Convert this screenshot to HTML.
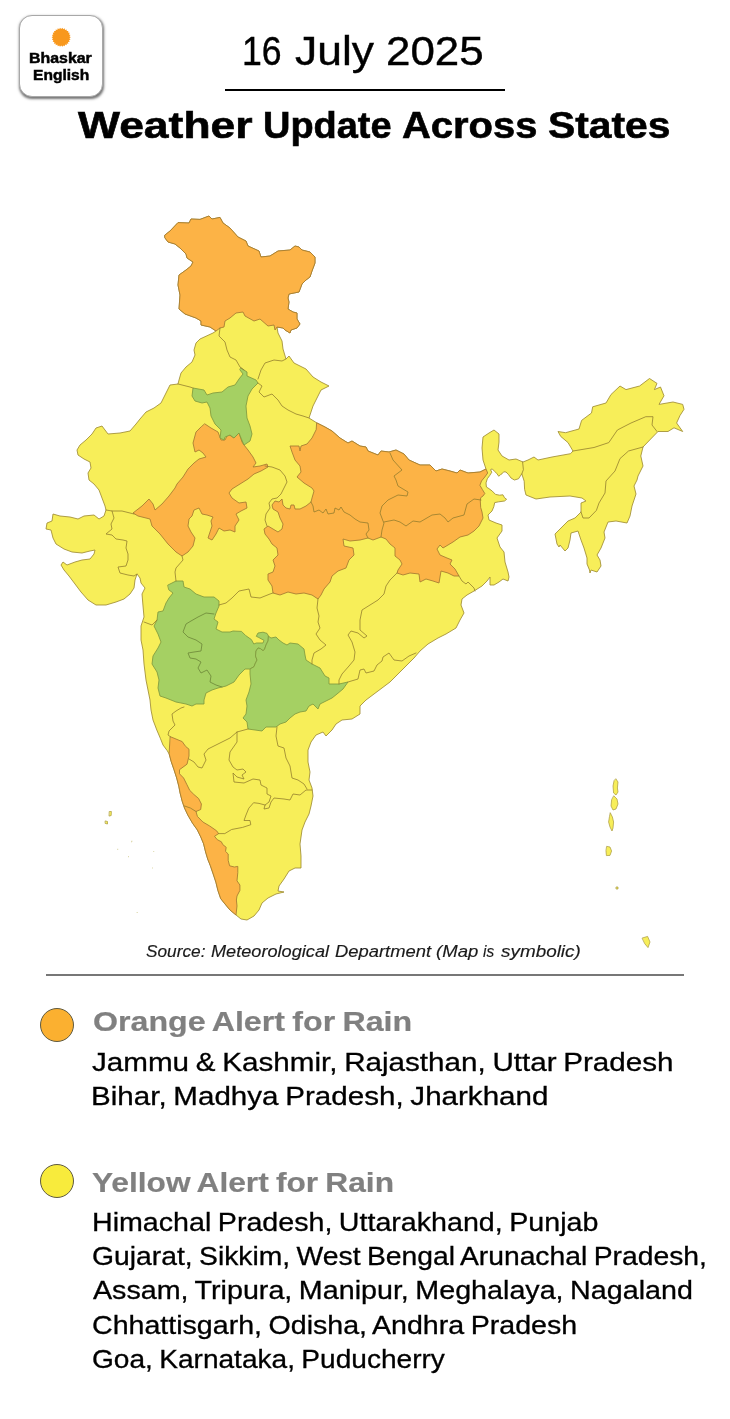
<!DOCTYPE html>
<html lang="en">
<head>
<meta charset="utf-8">
<title>Weather Update Across States</title>
<style>
html,body{margin:0;padding:0;background:#fff;}
body{width:730px;height:1419px;position:relative;overflow:hidden;font-family:"Liberation Sans",sans-serif;color:#000;}
.grp{position:absolute;left:0;top:0;width:0;height:0;margin:0;padding:0;font-size:0;}
.tx{position:absolute;display:block;margin:0;padding:0;white-space:nowrap;letter-spacing:0.0em;word-spacing:-0.05em;transform-origin:0 0;}
#logo{position:absolute;left:19px;top:15px;width:84px;height:82px;border-radius:13px;background:#fff;border:1px solid #a8a8a8;box-sizing:border-box;box-shadow:0.5px 1.5px 2.5px rgba(0,0,0,.55);}
#sun{position:absolute;left:52px;top:28px;width:18px;height:18px;border-radius:50%;background:#f8981d;}
#rule1{position:absolute;left:225px;top:89px;width:280px;height:1.5px;background:#000;}
#rule2{position:absolute;left:46px;top:974px;width:638px;height:2px;background:#777;}
.dot{position:absolute;width:34px;height:34px;border-radius:50%;border:1.3px solid #5f5a40;box-sizing:border-box;}
#map{position:absolute;left:0;top:0;z-index:2;}
</style>
</head>
<body>
<div id="logo"></div>
<div id="rule1"></div>
<svg id="map" width="730" height="1419" viewBox="0 0 730 1419">
<polygon points="70.8,37.3 69.4,38.3 70.5,39.6 69.0,40.2 69.7,41.8 68.0,42.0 68.4,43.7 66.7,43.5 66.7,45.2 65.1,44.6 64.6,46.3 63.2,45.4 62.4,46.8 61.2,45.6 60.0,46.8 59.2,45.4 57.8,46.3 57.3,44.6 55.7,45.2 55.7,43.5 54.0,43.7 54.4,42.0 52.7,41.8 53.4,40.2 51.9,39.6 53.0,38.3 51.6,37.3 53.0,36.3 51.9,35.0 53.4,34.4 52.7,32.8 54.4,32.6 54.0,30.9 55.7,31.1 55.7,29.4 57.3,30.0 57.8,28.3 59.2,29.2 60.0,27.8 61.2,29.0 62.4,27.8 63.2,29.2 64.6,28.3 65.1,30.0 66.7,29.4 66.7,31.1 68.4,30.9 68.0,32.6 69.7,32.8 69.0,34.4 70.5,35.0 69.4,36.3" fill="#f8981d"/>
<g stroke-linejoin="round" stroke-linecap="round">
<path d="M165,235 L170,231 L178,222.6 L189,223 L191,219 L200,219.4 L209,216 L212,219 L220,217.4 L223,223 L230,228 L238,237 L246,241 L248,246 L259,251 L261,257 L270,256 L278,251 L290,250 L295,246 L299,247 L302,250 L310,252 L315,257 L315,263 L312,271 L310,277 L306,280 L302,284 L299,292 L289,294 L288,298 L289,302 L288,309 L293,312 L297,313 L297,319 L300,324 L297,328 L291,330 L290,333 L285,330 L283,328 L277,327 L278,333 L282,341 L283,349 L286,359 L289,356 L294,363 L300,366 L306,369 L313,377 L321,382 L329,386 L321,390 L317,398 L313,406 L309,418 L317,423 L325,427 L332,431 L340,438 L348,443 L352,441 L360,446 L366,447 L368,451 L378,455 L381,451 L389,452 L396,450 L404,454 L409,460 L420,465 L430,465 L436,471 L442,469 L450,471 L457,473 L460,470 L468,473 L480,472 L486,469 L483,460 L482,448 L483,437 L489,433 L494,430 L499,434 L499,442 L498,450 L502,456 L509,460 L516,459 L523,462 L528,460 L534,457 L538,460 L552,457 L570.5,453.7 L573,451 L568,442.6 L560.7,436.4 L558,431.5 L565.6,432.7 L579,429 L581.6,420.4 L591.5,413 L592.7,406.8 L606,403 L611,394.5 L620,386 L626,389.6 L639.6,386 L649.5,378.5 L657,383.4 L654.4,389.6 L660.5,387 L664,395.8 L659,404.4 L673,402 L682.7,404.4 L684,409.3 L680,415.5 L676.6,423 L682.7,431.5 L674,427.8 L668,431.5 L658,431.5 L650.7,439 L643,447 L640.8,456 L643,466 L638,476 L637,480 L634,486 L636,494 L632,506 L630,516 L627,523 L616,521 L608,522 L604,532 L605,538 L601,548 L597,555 L600,560 L601,566 L597,572 L591,570 L590,573 L589.5,570 L587,564 L587,558 L584,548 L581,540 L578,531 L571,533 L570,540 L568,548 L565,551 L560,545 L559,547 L557,544 L555,534 L563,526 L568,521 L575,518 L581,512 L581,503 L586,501 L582,498 L570,496 L550,497 L536,499 L526,495 L524.6,489.4 L524.2,481.2 L521.8,473.8 L518.5,478.8 L514.4,480 L511,478 L508.6,474.7 L506,472 L503.7,471.8 L502,473.8 L500.4,474.7 L498.8,476.3 L497,473.8 L494.7,471.4 L492.2,468.9 L490.5,469.7 L491.8,472.2 L489.7,475.5 L487.3,478.8 L486,482.9 L486.4,487 L488.9,488.6 L492.2,491 L495.5,494.4 L499.6,495.2 L502.9,494.8 L504.5,497.7 L506.6,499.3 L504.5,501 L498.8,501.8 L494.7,502.6 L493.8,506.7 L492,511 L488,515 L489,520 L496,523 L502,525 L502,531 L497,538 L500,547 L504,552 L505,562 L508,572 L509,577 L508,581 L503,579 L499,582 L494,585 L490,585 L490,577 L487,581 L482,586 L474,591 L467,595 L462,599 L461,605 L464,613 L460,620 L456,628 L446,634 L438,638 L428,644 L420,651 L414,658 L406,666 L398,674 L390,682 L382,688 L374,694 L366,700 L360,706 L360,714 L352,719 L342,720 L336,724 L332,730 L326,736 L323,732 L316,735 L311,742 L308,750 L308,762 L310,772 L309,780 L312,788 L313,796 L311,806 L309,814 L305,822 L302,830 L300,844 L301,856 L301,868 L295,868 L289,871 L284,879 L279,886 L278,891 L284,892 L276,894 L268,898 L262,903 L259,910 L254,916 L247,920 L241,919 L236,915 L230,910 L225,904 L220.7,898.6 L217.9,890.4 L215.9,882.2 L213.2,874 L210.4,865.8 L207.7,859 L205.6,852 L203.6,843.8 L200.8,837 L197.4,830 L192.6,823.3 L187.8,815 L184.5,808 L182.2,801.2 L180.1,793 L178.8,786.2 L176.7,778 L174,769.7 L171.2,761.5 L169.2,754 L167.1,750.5 L163,745 L160.3,738.2 L156.8,730 L153,720 L151,710 L150,700 L148,690 L146,680 L144,664 L143,650 L141,640 L141,626 L144,617 L143,606 L142,594 L145,588 L141,583 L140,578 L137,574 L135,580 L134,588 L130,594 L124,599 L116,602 L106,605 L96,605 L88,600 L81,592 L75,584 L69,576 L64,570 L61,565 L63,562 L67,565 L75,562 L82,560 L90,559 L94,554 L95,550 L90,551 L82,553 L72,552 L64,549 L56,544 L53,538 L51,530 L46,529 L47,523 L52,521 L53,514 L60,516 L70,517 L78,519 L84,516 L94,515 L99,519 L104,516 L106,510 L105,506 L102,498 L99,490 L94,484 L89,480 L88,473 L91,468 L90,462 L84,459 L78,455 L77,450 L80,445 L86,440 L92,434 L96,428 L102,426 L105,430 L108,434 L120,433 L130,431 L136,424 L140,419 L146,412 L154,408 L161,403 L166,393 L170,385 L178,384 L179,380 L181,373 L186,367 L192,362 L195,355 L194,350 L196,343 L200,339 L213,333 L216,331 L210,327 L201,325 L201,321 L196,318 L185,314 L179,309 L180,295 L178,285 L179,275 L186,270 L191,266 L193,262 L187,258 L186,254 L180,248 L175,244 L168,242 L165,238Z" fill="#f7ee59" stroke="#9f8d33" stroke-width="0.85"/>
<path d="M165,235 L170,231 L178,222.6 L189,223 L191,219 L200,219.4 L209,216 L212,219 L220,217.4 L223,223 L230,228 L238,237 L246,241 L248,246 L259,251 L261,257 L270,256 L278,251 L290,250 L295,246 L299,247 L302,250 L310,252 L315,257 L315,263 L312,271 L310,277 L306,280 L302,284 L299,292 L289,294 L288,298 L289,302 L288,309 L293,312 L297,313 L297,319 L300,324 L297,328 L291,330 L290,333 L285,330 L283,328 L277,327 L275,330 L274,325 L268,326 L260,319 L254,321 L245,316 L243,312 L236,313 L230,318 L225,321 L224,327 L220,328 L216,331 L210,327 L201,325 L201,321 L196,318 L185,314 L179,309 L180,295 L178,285 L179,275 L186,270 L191,266 L193,262 L187,258 L186,254 L180,248 L175,244 L168,242 L165,238Z" fill="#fcb346" stroke="#a47a30" stroke-width="0.85"/>
<path d="M205,424 L211,428 L218,432 L221,440 L225,440 L228,434 L234,438 L239,433 L242,442 L244,445 L248,450 L253,457 L256,463 L253,467 L260,466 L267,464 L268,467 L261,471 L254,474 L248,479 L240,484 L232,489 L229,493 L232,498 L239,503 L246,502 L247,508 L241,511 L236,514 L239,520 L235,526 L235,532 L230,530 L224,531 L219,528 L216,534 L212,540 L208,538 L210,532 L212,526 L211,521 L213,517 L207,515 L202,514 L199,508 L194,510 L192,516 L189,519 L188,526 L191,532 L195,538 L193,546 L188,552 L182,556 L176,552 L168,544 L160,534 L152,526 L150,519 L138,516 L133,513 L142,506 L149,499 L153,504 L155,510 L162,504 L169,496 L175,488 L177,484 L183,477 L188,469 L194,463 L199,459 L206,457 L203,453 L199,450 L195,452 L193,443 L196,432 L201,427Z" fill="#fcb346" stroke="#a47a30" stroke-width="0.85"/>
<path d="M317,423 L325,427 L332,431 L340,438 L348,443 L352,441 L360,446 L366,447 L368,451 L378,455 L381,451 L389,452 L396,450 L404,454 L409,460 L420,465 L430,465 L436,471 L442,469 L450,471 L457,473 L460,470 L468,473 L480,472 L486,469 L487.7,473 L484.8,477 L481.5,481 L479.9,485.3 L482.3,489.4 L484.8,493.5 L483,496 L480.7,497.7 L480.3,501 L480.7,507.5 L482,512 L483,518 L479,526 L474,531 L468,535 L460,537 L453,542 L448,545 L443,548 L440,545 L437,549 L440,555 L447,558 L452,560 L450,564 L455,569 L459,576 L454,576 L448,573 L441,571 L440,577 L439,583 L433,581 L426,579 L420,582 L419,574 L410,573 L403,575 L397,573 L398,570 L402,564 L400,560 L395,556 L395,548 L390,544 L386,539 L381,537 L373,540 L368,538 L360,540 L350,541 L343,539 L344,546 L353,548 L354,555 L349,560 L346,568 L338,571 L332,576 L330,582 L324,589 L321,595 L318,599 L312,595 L304,593 L296,594 L288,592 L280,595 L273,593 L272,586 L268,580 L268,574 L273,572 L275,566 L273,560 L278,555 L277,548 L272,544 L269,539 L265,534 L264,529 L268,526 L273,529 L278,532 L282,529 L283,524 L280,518 L278,512 L273,509 L272,505 L275,501 L279,502 L282,499 L283,505 L286,508 L290,509 L291,505 L294,505 L295,509 L300,509 L306,506 L311,502 L312,498 L314,491 L312,488 L304,483 L297,477 L301,472 L300,466 L295,460 L292,452 L290,446 L299,446 L300,451 L301,446 L307,444 L312,438 L316,430Z" fill="#fcb346" stroke="#a47a30" stroke-width="0.85"/>
<path d="M170.5,736.8 L174,738.2 L182.2,741.6 L185.6,746.4 L189,749.2 L189,756 L187,764.2 L179.5,769.7 L179.5,773.8 L183.6,778 L187,784.8 L189.7,790.3 L193.8,794.4 L198.6,798.5 L201.4,804 L200.7,809.5 L196,811.5 L197.4,816.4 L202.9,822 L209.7,826 L216.6,830.8 L218.6,833.6 L214.5,836.3 L217.3,839.7 L221.4,841.8 L222.7,844.5 L226.2,847.3 L225.5,851.4 L228.2,854 L228.2,860.3 L229.6,865.8 L234.4,867 L237.8,866.4 L237.8,872.6 L237,880.8 L239.9,885 L239.9,890.4 L237,896 L236.4,900 L237,906 L236,915 L230,910 L225,904 L220.7,898.6 L217.9,890.4 L215.9,882.2 L213.2,874 L210.4,865.8 L207.7,859 L205.6,852 L203.6,843.8 L200.8,837 L197.4,830 L192.6,823.3 L187.8,815 L184.5,808 L182.2,801.2 L180.1,793 L178.8,786.2 L176.7,778 L174,769.7 L171.2,761.5 L169.2,754Z" fill="#fcb346" stroke="#a47a30" stroke-width="0.85"/>
<path d="M168,585 L176,581 L183,581 L184,587 L190,589 L196,594 L204,597 L214,597 L219,601 L219,606 L216,613 L214,619 L218,622 L216,629 L222,632 L230,632 L233,631 L241.5,631.4 L245.6,635.5 L251.4,639.6 L253.8,644 L256.3,643 L263,643 L264,640.4 L258.8,637.5 L256.3,636.3 L258,633 L263,632.2 L267,633.4 L268.6,636.3 L268,641 L266,645 L264.5,649.4 L263,650.7 L260.4,648.6 L258,648 L256,651 L255.5,656 L257,660 L255,664 L254,666.7 L250,669 L245,669 L239,675 L234,682 L226,686 L218,688 L212,690 L206,693 L204,700 L204,704 L196,704 L192,706 L186,704 L176,702 L166,698 L160,696 L158,688 L159,680 L157,672 L152,664 L153,656 L158,648 L161,642 L158,634 L154,626 L157,620 L158,612 L163,611 L166,603 L169,598 L173,593 L169,590Z" fill="#a5d063" stroke="#7f9a3e" stroke-width="0.85"/>
<path d="M268.6,636.3 L271,638 L276,637 L279,640 L283,643 L287,645 L290,643 L298,644 L304,649 L305,655 L306,660 L312,664 L320,668 L325,676 L329,678 L329,684 L339,684 L348,682 L343,689 L337,694 L332,698 L326,701 L320,704 L318,709 L313,704 L309,706 L306,711 L300,712 L295,714 L290,718 L286,722 L280,724 L276,727 L266,727 L262,731 L248,729 L247,722 L243,718 L246,714 L247,706 L246,700 L249,692 L251,684 L250,674 L250,669 L254,666.7 L255,664 L257,660 L255.5,656 L256,651 L258,648 L260.4,648.6 L263,650.7 L264.5,649.4 L266,645 L268,641Z" fill="#a5d063" stroke="#7f9a3e" stroke-width="0.85"/>
<path d="M241,368 L247,372 L247,376 L256,380 L258,383 L252,389 L248,396 L246,406 L247,418 L250,426 L252,434 L250,441 L244,445 L241,438 L239,433 L234,438 L230,435 L225,437 L224,440 L220,438 L221,430 L215,424 L211,416 L210,408 L207,402 L202,403 L195,401 L192,396 L193,388 L204,390 L207,395 L213,393 L222,392 L228,387 L235,385 L239,379 L243,374 L240,370Z" fill="#a5d063" stroke="#7f9a3e" stroke-width="0.85"/>
<path d="M220,328 L219,336 L225,342 L227,350 L230,357 L236,360 L240,367 L244,370 M258,379 L261,370 L265,363 L274,360 L282,361 L286,359 M178,384 L190,387 L193,388 M258,383 L262,386 L259,392 L264,397 L272,394 L278,400 L282,406 L288,410 L296,414 L303,416 L309,418 M390,453 L393,460 L402,470 L394,476 L396,480 L398,486 L408,492 L407,496 L398,495 L388,500 L382,506 L380,513 L383,521 L384,523 L382,530 L381,537 M311,502 L313,506 L314,512 L319,510 L323,513 L326,509 L328,514 L334,513 L335,508 L339,510 L341,507 L344,512 L350,515 L355,519 L360,522 L368,523 L369,530 L366,534 L368,538 M384,522 L394,520 L400,522 L406,526 L413,521 L420,522 L432,515 L440,514 L445,518 L448,522 L453,518 L464,515 L467,504 L474,499 L481,500 M522.6,462 L523.4,469.7 L521.8,473.8 M573,451 L594,447.5 L608.8,442.6 L617.4,430 L631,423 L645.8,416.7 L653,416.7 L652,425 L657,431.5 M643,447 L628.5,451 L620,458.6 L615,471 L606,481 L605,493 L599,503 L596.4,510.4 L589,518 L583,518 L581,512 M459,576 L462,581 L466,584 L468,582 L474,588 L475,591 M318,599 L317,608 L319,616 L318,622 L320,628 L316,634 L320,640 L326,645 L321,649 L314,653 L312,660 L312,664 M397,573 L390,580 L386,586 L384,594 L378,600 L370,605 L362,610 L360,620 L360,630 L367,636 L364,638 L358,633 L351,631 L348,635 L352,642 L355,652 L354,660 L349,666 L342,674 L339,680 L339,684 M348,682 L358,679 L360,670 L364,669 L366,673 L374,671 L377,665 L382,661 L383,657 L389,653 L394,660 L402,661 L409,656 L416,653 M170.5,736.8 L168,735 L169,731 L175,725 L173,721 L172,714 L176,711 L181,708 L184,707 M189,759 L194,762 L198,767 L202,768 L206,760 L204,754 L208,749 L218,744 L230,738 L237,732 L248,729 M237,732 L237,742 L230,752 L229,760 L233,767 L237,770 L243,769 L246,772 L242,775 L244,779 L237,777 L233,773 L234,782 L244,783 L253,779 L260,780 L261,785 L267,788 L267,794 L271,796 L269,802 L265,805 L264,809 L269,808 L271,802 L274,798 L284,799 L290,800 L293,794 L300,795 L306,790 L312,790 M277,727 L276,736 L278,746 L284,748 L286,758 L290,766 L292,778 L298,780 L304,784 L307,789 M265,805 L259,803.4 L253.6,802.7 L248.8,808.2 L246,815 L244,820.5 L250,820.5 L250.8,824.7 L242.6,827.4 L231.6,829.5 L224.8,833.6 L218.6,833.6 M184.5,806 L190.4,808 L196,811.5 M106,510 L112,511 L122,511 L134,514 M112,511 L114,518 L111,524 L112,529 L106,534 L112,535 L116,539 L123,540 L127,541 L126,548 L128,554 L128,560 L126,566 L118,567 L120,573 L128,575 L134,576 L137,574 M144,622 L152,625 L157,620 M182,556 L183,560 L176,568 L175,572 L176,581 M219,605 L226,603 L232,598 L239,591 L249,589 L251,597 L260,598 L270,594 L273,593 M265,466 L272,467 L280,470 L285,476 L287,482 L284,488 L281,494 L277,498 L272,499 L269,503 L270,508 L266,514 L265,520 L267,526" fill="none" stroke="#8f7a2c" stroke-opacity="0.9" stroke-width="0.85"/>
<path d="M214,614 L206,613 L198,617 L191,621 L186,624 L183,632 L188,637 L196,640 L202,644 L201,651 L194,652 L188,653 L190,658 L196,659 L201,662 L198,668 L201,673 L207,670 L211,676 L210,682 L216,685 L222,687" fill="none" stroke="#6f8a3a" stroke-width="0.85"/>
<path d="M616,779 L618,782 L617.4,788 L618,792 L616,795 L613.6,793 L613,786 L614,781Z M614,796 L617,799 L618,804 L616,809 L613,810 L611,806 L611.6,800Z M610.4,813 L612.4,817 L613.6,822 L613,828 L612,831 L610,827 L608.6,822 L609.4,817Z M607,846.4 L610,847 L611.6,851 L610,855.4 L606.4,855.6 L606,851Z M616.4,887 L618,887 L618,889 L616.4,889Z M642.4,938 L647.6,936.4 L650,942 L648,947.6 L645,944Z M109.6,811.5 L111.4,811.5 L111.2,815.5 L109.4,816Z M105.5,821 L107.5,821.5 L107.5,824 L105.5,823.5Z" fill="#f7ee59" stroke="#a8983a" stroke-width="0.7"/>
<path d="M131,841 L132.2,840.6 L132.4,842 L131.2,842.4Z M117.2,848.8 L118.2,848.8 L118.2,850 L117.2,850Z M128,856 L129,856 L129,857.2 L128,857.2Z M153.2,851 L154.2,851 L154.2,852 L153.2,852Z M152,867.4 L153,867.4 L153,868.6 L152,868.6Z M136.6,912 L137.8,912 L137.8,913 L136.6,913Z" fill="#cfc98a" fill-opacity="0.7" stroke="none"/>
</g>
</svg>
<div id="rule2"></div>
<div class="dot" style="left:40px;top:1008px;background:#fbb030"></div>
<div class="dot" style="left:40px;top:1164px;background:#f8eb3c"></div>
<div class="grp" id="brand"><span class="tx" style="left:29.25px;top:49.98px;font-size:15.2px;line-height:15.2px;font-weight:bold;font-style:normal;color:#000;-webkit-text-stroke:0.5px #000;transform:scaleX(1.0475)">Bhaskar</span> <span class="tx" style="left:33.08px;top:67.08px;font-size:15.2px;line-height:15.2px;font-weight:bold;font-style:normal;color:#000;-webkit-text-stroke:0.5px #000;transform:scaleX(1.0245)">English</span> </div>
<div class="grp" id="date"><span class="tx" style="left:242.12px;top:29.93px;font-size:41.5px;line-height:41.5px;font-weight:normal;font-style:normal;color:#000;-webkit-text-stroke:0.4px #000;transform:scaleX(0.8595)">16</span> <span class="tx" style="left:294.93px;top:29.93px;font-size:41.5px;line-height:41.5px;font-weight:normal;font-style:normal;color:#000;-webkit-text-stroke:0.4px #000;transform:scaleX(1.0699)">July</span> <span class="tx" style="left:385.59px;top:29.93px;font-size:41.5px;line-height:41.5px;font-weight:normal;font-style:normal;color:#000;-webkit-text-stroke:0.4px #000;transform:scaleX(1.0573)">2025</span> </div>
<h1 class="grp" id="title"><span class="tx" style="left:77.70px;top:106.85px;font-size:37.0px;line-height:37.0px;font-weight:bold;font-style:normal;color:#000;-webkit-text-stroke:0.6px #000;transform:scaleX(1.2014)">Weather</span> <span class="tx" style="left:263.35px;top:106.85px;font-size:37.0px;line-height:37.0px;font-weight:bold;font-style:normal;color:#000;-webkit-text-stroke:0.6px #000;transform:scaleX(1.0254)">Update</span> <span class="tx" style="left:402.22px;top:106.85px;font-size:37.0px;line-height:37.0px;font-weight:bold;font-style:normal;color:#000;-webkit-text-stroke:0.6px #000;transform:scaleX(1.0789)">Across</span> <span class="tx" style="left:547.50px;top:106.85px;font-size:37.0px;line-height:37.0px;font-weight:bold;font-style:normal;color:#000;-webkit-text-stroke:0.6px #000;transform:scaleX(1.1028)">States</span> </h1>
<div class="grp" id="src"><span class="tx" style="left:146.08px;top:942.85px;font-size:17.0px;line-height:17.0px;font-weight:normal;font-style:italic;color:#1a1a1a;-webkit-text-stroke:0.15px #1a1a1a;transform:scaleX(1.0158)">Source:</span> <span class="tx" style="left:210.50px;top:942.85px;font-size:17.0px;line-height:17.0px;font-weight:normal;font-style:italic;color:#1a1a1a;-webkit-text-stroke:0.15px #1a1a1a;transform:scaleX(1.0676)">Meteorological</span> <span class="tx" style="left:334.50px;top:942.85px;font-size:17.0px;line-height:17.0px;font-weight:normal;font-style:italic;color:#1a1a1a;-webkit-text-stroke:0.15px #1a1a1a;transform:scaleX(1.0820)">Department</span> <span class="tx" style="left:436.31px;top:942.85px;font-size:17.0px;line-height:17.0px;font-weight:normal;font-style:italic;color:#1a1a1a;-webkit-text-stroke:0.15px #1a1a1a;transform:scaleX(1.0919)">(Map</span> <span class="tx" style="left:483.40px;top:942.85px;font-size:17.0px;line-height:17.0px;font-weight:normal;font-style:italic;color:#1a1a1a;-webkit-text-stroke:0.15px #1a1a1a;transform:scaleX(0.9083)">is</span> <span class="tx" style="left:500.50px;top:942.85px;font-size:17.0px;line-height:17.0px;font-weight:normal;font-style:italic;color:#1a1a1a;-webkit-text-stroke:0.15px #1a1a1a;transform:scaleX(1.1113)">symbolic)</span> </div>
<h2 class="tx" id="h1" style="left:92.87px;top:1007.06px;font-size:28.4px;line-height:28.4px;font-weight:bold;font-style:normal;color:#808080;-webkit-text-stroke:0.2px #808080;transform:scaleX(1.1326)">Orange Alert for Rain</h2>
<p class="tx" id="o1" style="left:92.00px;top:1049.71px;font-size:25.4px;line-height:25.4px;font-weight:normal;font-style:normal;color:#000;-webkit-text-stroke:0.3px #000;transform:scaleX(1.1657)">Jammu &amp; Kashmir, Rajasthan, Uttar Pradesh</p>
<p class="tx" id="o2" style="left:91.17px;top:1083.91px;font-size:25.4px;line-height:25.4px;font-weight:normal;font-style:normal;color:#000;-webkit-text-stroke:0.3px #000;transform:scaleX(1.1645)">Bihar, Madhya Pradesh, Jharkhand</p>
<h2 class="tx" id="h2" style="left:92.48px;top:1168.16px;font-size:28.4px;line-height:28.4px;font-weight:bold;font-style:normal;color:#808080;-webkit-text-stroke:0.2px #808080;transform:scaleX(1.1153)">Yellow Alert for Rain</h2>
<p class="tx" id="y1" style="left:91.55px;top:1210.21px;font-size:25.4px;line-height:25.4px;font-weight:normal;font-style:normal;color:#000;-webkit-text-stroke:0.3px #000;transform:scaleX(1.1271)">Himachal Pradesh, Uttarakhand, Punjab</p>
<p class="tx" id="y2" style="left:92.39px;top:1244.31px;font-size:25.4px;line-height:25.4px;font-weight:normal;font-style:normal;color:#000;-webkit-text-stroke:0.3px #000;transform:scaleX(1.1138)">Gujarat, Sikkim, West Bengal Arunachal Pradesh,</p>
<p class="tx" id="y3" style="left:93.00px;top:1278.41px;font-size:25.4px;line-height:25.4px;font-weight:normal;font-style:normal;color:#000;-webkit-text-stroke:0.3px #000;transform:scaleX(1.1292)">Assam, Tripura, Manipur, Meghalaya, Nagaland</p>
<p class="tx" id="y4" style="left:92.37px;top:1312.51px;font-size:25.4px;line-height:25.4px;font-weight:normal;font-style:normal;color:#000;-webkit-text-stroke:0.3px #000;transform:scaleX(1.1259)">Chhattisgarh, Odisha, Andhra Pradesh</p>
<p class="tx" id="y5" style="left:92.39px;top:1346.61px;font-size:25.4px;line-height:25.4px;font-weight:normal;font-style:normal;color:#000;-webkit-text-stroke:0.3px #000;transform:scaleX(1.1053)">Goa, Karnataka, Puducherry</p>

</body>
</html>
